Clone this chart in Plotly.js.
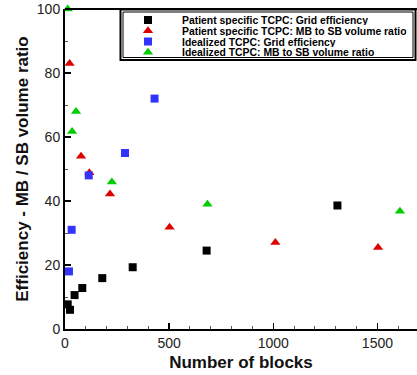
<!DOCTYPE html>
<html>
<head>
<meta charset="utf-8">
<script src="https://cdn.plot.ly/plotly-3.0.1.min.js"></script>
<style>html,body{margin:0;padding:0;background:#fff;}#chart{width:417px;height:375px;}</style>
</head>
<body>
<div id="chart"></div>
<script>
// Series names
var seriesNames = [
  "Patient specific TCPC: Grid efficiency",
  "Patient specific TCPC: MB to SB volume ratio",
  "Idealized TCPC: Grid efficiency",
  "Idealized TCPC: MB to SB volume ratio"
];
// Patient specific TCPC: Grid efficiency
var patientGridX = [13, 24, 46, 83, 179, 325, 680, 1308];
var patientGridY = [7.7, 6.0, 10.6, 12.8, 15.9, 19.3, 24.5, 38.6];
// Patient specific TCPC: MB to SB volume ratio
var patientRatioX = [22, 77, 117, 216, 502, 1010, 1503];
var patientRatioY = [83, 54, 48.8, 42.2, 31.8, 27, 25.5];
// Idealized TCPC: Grid efficiency
var idealGridX = [19, 32, 114, 288, 430];
var idealGridY = [18, 31, 48, 55, 72];
// Idealized TCPC: MB to SB volume ratio
var idealRatioX = [13, 34, 53, 225, 684, 1608];
var idealRatioY = [100, 61.7, 68, 45.9, 39, 36.8];

var colors = ["#000000", "#dd0000", "#3333ff", "#00cc00"];
var symbols = ["square", "triangle-up", "square", "triangle-up"];
var sizes = [8, 9, 8, 9];

var xs = [patientGridX, patientRatioX, idealGridX, idealRatioX];
var ys = [patientGridY, patientRatioY, idealGridY, idealRatioY];

var W = 417, H = 375;
var mL = 65, mR = 0, mT = 9, mB = 46;
var pw = W - mL - mR, ph = H - mT - mB;
function px2x(px) { return (px - mL) / pw; }
function py2y(py) { return (H - mB - py) / ph; }

var traces = [];
for (var i = 0; i < 4; i++) {
  traces.push({
    type: "scatter", mode: "markers", name: seriesNames[i],
    x: xs[i], y: ys[i], cliponaxis: false,
    marker: {symbol: symbols[i], size: sizes[i], color: colors[i]},
    showlegend: false
  });
}
// legend markers on an overlay unit axis
var legRowsPx = [20, 30.7, 41.5, 52.2];
var legX = px2x(148);
for (var j = 0; j < 4; j++) {
  traces.push({
    type: "scatter", mode: "markers", xaxis: "x2", yaxis: "y2",
    x: [legX], y: [py2y(legRowsPx[j])], hoverinfo: "skip", showlegend: false,
    marker: {symbol: symbols[j], size: sizes[j], color: colors[j]}
  });
}

var annotations = [];
for (var k = 0; k < 4; k++) {
  annotations.push({
    xref: "paper", yref: "paper", x: px2x(181), y: py2y(legRowsPx[k]),
    xanchor: "left", yanchor: "middle", showarrow: false,
    height: 10, borderpad: 0,
    text: "<b>" + seriesNames[k] + "</b>",
    font: {family: "Liberation Sans, Arial, sans-serif", size: 10.4, color: "#000"}
  });
}

var layout = {
  width: W, height: H,
  margin: {l: mL, r: mR, t: mT, b: mB, pad: 0},
  paper_bgcolor: "#fff", plot_bgcolor: "#fff",
  font: {family: "Liberation Sans, Arial, sans-serif", color: "#222"},
  xaxis: {
    range: [0, 1690], showgrid: false, zeroline: false,
    showline: true, linecolor: "#000", linewidth: 2, mirror: false,
    ticks: "inside", ticklen: 6, tickwidth: 1.5, tickcolor: "#000",
    tickvals: [0, 500, 1000, 1500], ticktext: ["0", "500", "1000", "1500"],
    minor: {dtick: 100, ticks: "inside", ticklen: 3, tickcolor: "#555", tickwidth: 1},
    tickfont: {size: 14, color: "#222"},
    title: {text: "<b>Number of blocks</b>", font: {size: 17, color: "#111"}, standoff: 6}
  },
  yaxis: {
    range: [0, 100], showgrid: false, zeroline: false,
    showline: true, linecolor: "#000", linewidth: 2, mirror: false,
    ticks: "inside", ticklen: 6, tickwidth: 1.5, tickcolor: "#000",
    dtick: 20, tick0: 0,
    minor: {dtick: 10, ticks: "inside", ticklen: 3, tickcolor: "#555", tickwidth: 1},
    tickfont: {size: 14, color: "#222"},
    title: {text: "<b>Efficiency - MB / SB volume ratio</b>", font: {size: 17, color: "#111"}, standoff: 4}
  },
  xaxis2: {overlaying: "x", range: [0, 1], visible: false, fixedrange: true},
  yaxis2: {overlaying: "y", range: [0, 1], visible: false, fixedrange: true},
  shapes: [
    {type: "line", xref: "paper", yref: "paper", x0: 0, x1: 1, y0: 1, y1: 1,
     line: {color: "#000", width: 2}},
    {type: "rect", xref: "paper", yref: "paper", x0: px2x(120.5), x1: px2x(415.5), y0: py2y(60), y1: py2y(9.5),
     line: {color: "#000", width: 2}, fillcolor: "#fff", layer: "below"},
    {type: "rect", xref: "paper", yref: "paper", x0: px2x(123), x1: px2x(413), y0: py2y(57.5), y1: py2y(12),
     line: {color: "#000", width: 1}, fillcolor: "rgba(0,0,0,0)", layer: "below"}
  ],
  annotations: annotations,
  showlegend: false
};

Plotly.newPlot("chart", traces, layout, {displayModeBar: false, staticPlot: true});
</script>
</body>
</html>
